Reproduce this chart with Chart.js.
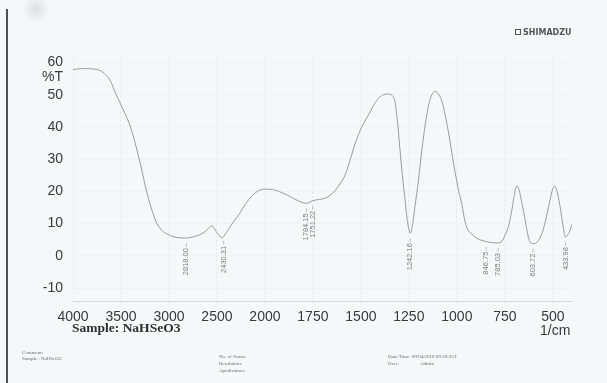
<!DOCTYPE html>
<html>
<head>
<meta charset="utf-8">
<script src="https://cdn.jsdelivr.net/npm/chart.js@4.4.1/dist/chart.umd.min.js"></script>
<style>
  html, body { margin: 0; padding: 0; background: #f6f7f9; }
  canvas { display: block; }
</style>
</head>
<body>
<canvas id="graficoIR" width="607" height="383"></canvas>
<script>
// Espectro IR (Shimadzu) - NaHSeO3

// Numeros de onda (1/cm) y transmitancia (%T)
const numerosOnda = [
  4000, 3900, 3800, 3719, 3660, 3615, 3550, 3479, 3420, 3375, 3302, 3229, 3170, 3125, 3070, 3021,
  2950, 2885, 2818, 2750, 2690, 2620, 2552, 2500, 2448, 2400, 2330, 2260, 2200, 2135, 2060, 2000,
  1948, 1875, 1820, 1784, 1765, 1751, 1720, 1690, 1660, 1635, 1610, 1583, 1547, 1531, 1495, 1458,
  1430, 1406, 1380, 1360, 1339, 1323, 1310, 1297, 1284, 1271, 1258, 1242, 1230, 1219, 1200, 1182,
  1164, 1146, 1130, 1115, 1100, 1078, 1060, 1042, 1015, 990, 974, 958, 940, 922, 900, 870,
  847, 815, 785, 765, 750, 730, 714, 700, 688, 676, 660, 646, 630, 620, 604, 583,
  565, 547, 530, 516, 500, 490, 478, 464, 450, 440, 434, 425, 411, 400
];
const transmitancia = [
  57.8, 58.1, 58.0, 57.5, 56.2, 54.5, 50.0, 45.5, 41.5, 37.5, 29.0, 19.5, 13.5, 10.0, 7.8, 6.8,
  5.9, 5.6, 5.5, 5.9, 6.4, 7.6, 9.3, 7.2, 5.6, 7.3, 10.5, 13.3, 16.2, 18.6, 20.3, 20.7,
  20.4, 18.6, 16.9, 16.3, 16.7, 17.1, 17.5, 17.8, 18.8, 20.2, 22.3, 25.0, 31.5, 34.7, 40.0, 44.0,
  47.0, 49.0, 50.0, 50.2, 49.8, 48.0, 42.0, 33.4, 25.0, 18.0, 11.0, 7.0, 10.0, 14.9, 23.5, 33.0,
  41.0, 47.0, 50.0, 51.0, 50.5, 48.0, 43.5, 37.8, 28.0, 20.0, 16.0, 10.8, 7.8, 6.8, 5.6, 4.8,
  4.4, 4.1, 4.0, 4.6, 6.2, 9.5, 14.0, 19.0, 21.7, 20.5, 16.0, 11.8, 6.5, 4.5, 3.8, 4.2,
  5.8, 8.7, 13.0, 17.0, 20.8, 21.7, 20.0, 16.0, 10.5, 7.0, 5.8, 6.3, 7.8, 9.8
];

// Picos marcados en el espectro
const picosOnda = [2818.00, 2430.31, 1784.15, 1751.22, 1242.16, 846.75, 785.03, 603.72, 433.98];
const picosTexto = ['2818.00', '2430.31', '1784.15', '1751.22', '1242.16', '846.75', '785.03', '603.72', '433.98'];

// Ejes
const valoresX = [4000, 3500, 3000, 2500, 2000, 1750, 1500, 1250, 1000, 750, 500];
const etiquetasX = ['4000', '3500', '3000', '2500', '2000', '1750', '1500', '1250', '1000', '750', '500'];
const ticksY = [-10, 0, 10, 20, 30, 40, 50, 60];

// El eje del equipo cambia de escala en 2000 1/cm (500 por division arriba, 250 por debajo)
function posicion(w) {
  return w >= 2000 ? (4000 - w) / 500 : 4 + (2000 - w) / 250;
}

// transmitancia interpolada para colocar las etiquetas de los picos
function tEn(w) {
  for (let i = 0; i < numerosOnda.length - 1; i++) {
    const a = numerosOnda[i], b = numerosOnda[i + 1];
    if (w <= a && w >= b) {
      const f = (a - w) / (a - b);
      return transmitancia[i] + f * (transmitancia[i + 1] - transmitancia[i]);
    }
  }
  return transmitancia[transmitancia.length - 1];
}

const puntos = numerosOnda.map((w, i) => ({ x: posicion(w), y: transmitancia[i] }));

const fuenteEje = '14px "Liberation Sans", Arial, sans-serif';

const textosExtra = {
  id: 'textosExtra',
  beforeDraw(chart) {
    const c = chart.ctx;
    c.save();
    c.fillStyle = '#f6f7f9';
    c.fillRect(0, 0, chart.width, chart.height);
    // borde del papel escaneado
    c.fillStyle = '#505050';
    c.fillRect(6, 9, 2, chart.height - 9);
    const g = c.createRadialGradient(36, 9, 1, 36, 9, 14);
    g.addColorStop(0, 'rgba(170,170,170,0.3)');
    g.addColorStop(1, 'rgba(170,170,170,0)');
    c.fillStyle = g;
    c.fillRect(18, 0, 36, 24);
    c.restore();
  },
  afterDraw(chart) {
    const c = chart.ctx;
    const sx = chart.scales.x, sy = chart.scales.y;
    c.save();
    c.fillStyle = '#3a3a3a';
    c.font = fuenteEje;
    c.textAlign = 'right';
    c.textBaseline = 'middle';
    c.fillText('%T', 63, 77);
    c.textAlign = 'left';
    c.fillText('1/cm', 540, 331);

    c.font = 'bold 13.5px "Liberation Serif", "Times New Roman", serif';
    c.fillStyle = '#2e2e2e';
    c.fillText('Sample: NaHSeO3', 72, 329);

    // pie de pagina
    c.font = '5px "Liberation Serif", serif';
    c.fillStyle = '#6a6a6a';
    c.fillText('Comment:', 22, 353);
    c.fillText('Sample : NaHSeO3', 22, 359);
    c.fillText('No. of Scans:', 219, 357);
    c.fillText('Resolution:', 219, 364);
    c.fillText('Apodization:', 219, 371);
    c.fillText('Date/Time: 09/04/2018 09:29:20 I', 388, 357);
    c.fillText('User:', 388, 364);
    c.fillText('Admin', 420, 364);

    // logo
    c.fillStyle = '#555';
    c.strokeStyle = '#555';
    c.lineWidth = 1;
    c.strokeRect(515.5, 29.5, 5, 5);
    c.font = 'bold 8px "DejaVu Sans", sans-serif';
    c.textBaseline = 'middle';
    c.fillText('SHIMADZU', 523, 32.5);

    // etiquetas de picos
    c.font = '7.5px "Liberation Sans", sans-serif';
    c.fillStyle = '#7d7d7d';
    c.strokeStyle = '#9a9a9a';
    c.lineWidth = 0.6;
    picosOnda.forEach((w, i) => {
      const px = sx.getPixelForValue(posicion(w));
      const py = sy.getPixelForValue(tEn(w));
      const arriba = py + 9;
      c.beginPath();
      c.moveTo(px, arriba - 4);
      c.lineTo(px, arriba);
      c.stroke();
      c.save();
      c.translate(px, arriba + 1);
      c.rotate(-Math.PI / 2);
      c.textAlign = 'right';
      c.textBaseline = 'middle';
      c.fillText(picosTexto[i], 0, 0);
      c.restore();
    });
    c.restore();
  }
};

const chartIR = new Chart(document.getElementById('graficoIR').getContext('2d'), {
  type: 'line',
  data: {
    datasets: [{
      label: '%T',
      data: puntos,
      borderColor: '#9b9b9b',
      borderWidth: 1,
      pointRadius: 0,
      cubicInterpolationMode: 'monotone',
      fill: false
    }]
  },
  options: {
    responsive: false,
    animation: false,
    layout: { padding: { top: 56, right: 35, bottom: 0, left: 0 } },
    plugins: { legend: { display: false }, tooltip: { enabled: false } },
    scales: {
      x: {
        type: 'linear',
        min: 0,
        max: posicion(400),
        afterBuildTicks: (s) => { s.ticks = valoresX.map(v => ({ value: posicion(v) })); },
        afterFit: (s) => { s.height = 82; },
        grid: { color: '#e6e8ec', lineWidth: 1, drawTicks: false },
        border: { display: true, color: '#d3d6da', dash: [2, 2] },
        ticks: {
          color: '#3a3a3a',
          font: { family: '"Liberation Sans", Arial, sans-serif', size: 14 },
          padding: 8,
          maxRotation: 0,
          autoSkip: false,
          callback: (v, i) => etiquetasX[i]
        }
      },
      y: {
        min: -14,
        max: 62,
        afterBuildTicks: (s) => { s.ticks = ticksY.map(v => ({ value: v })); },
        afterFit: (s) => { s.width = 73; },
        grid: { color: '#f0f1f4', lineWidth: 1, drawTicks: false },
        border: { display: false },
        ticks: {
          color: '#3a3a3a',
          font: { family: '"Liberation Sans", Arial, sans-serif', size: 14 },
          padding: 10
        }
      }
    }
  },
  plugins: [textosExtra]
});
</script>
</body>
</html>
